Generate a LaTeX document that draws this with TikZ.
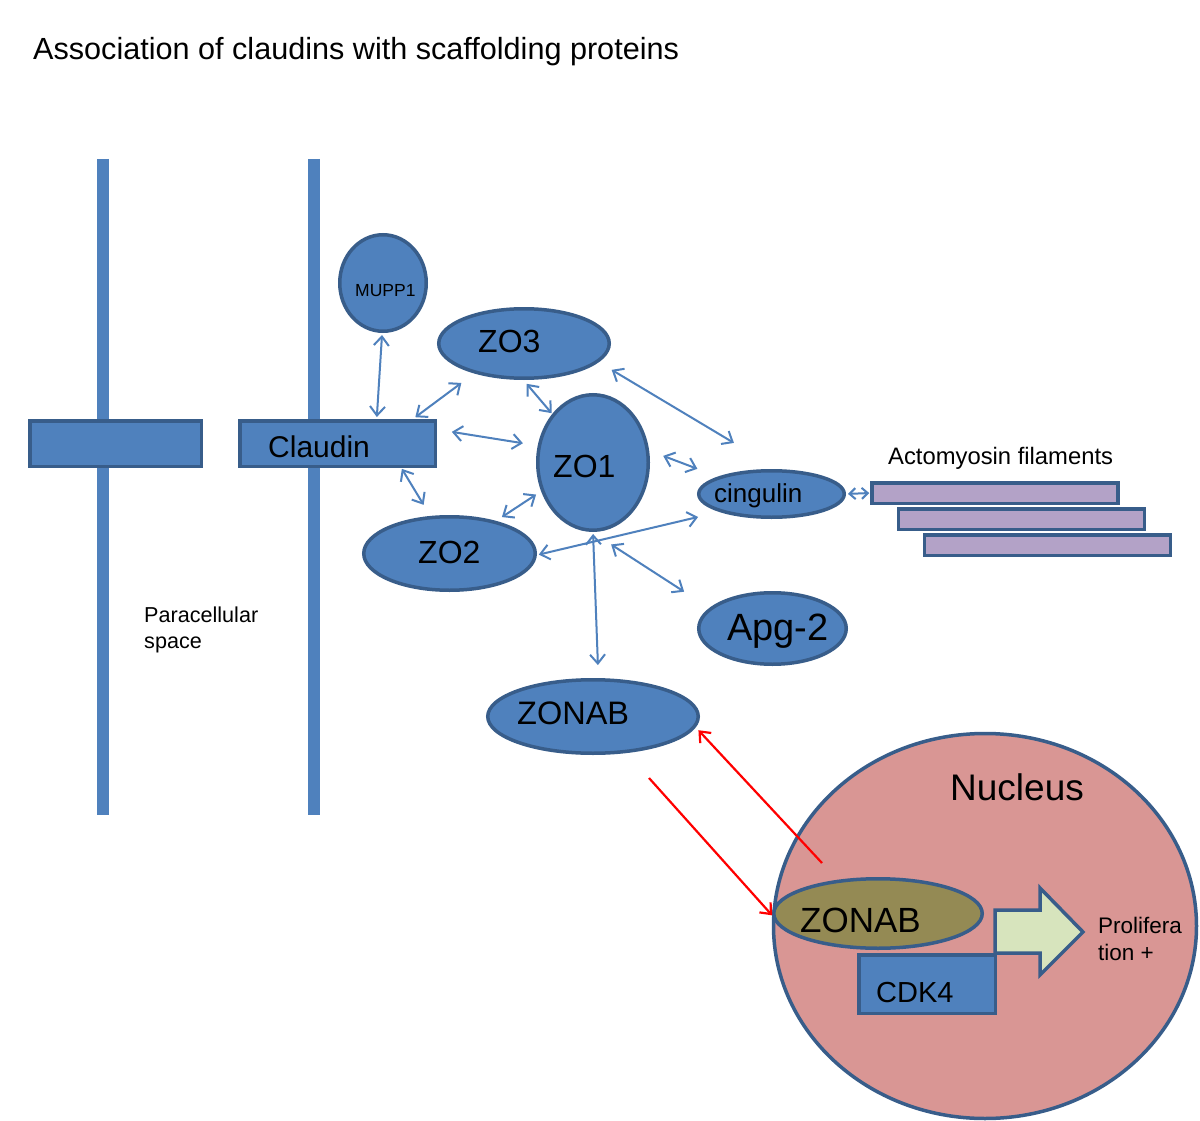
\documentclass[tikz,border=0pt]{standalone}
\usepackage{fontspec}
\setmainfont{Liberation Sans}
\usetikzlibrary{arrows.meta,shapes.geometric}
\definecolor{blfill}{HTML}{4F81BD}
\definecolor{bldraw}{HTML}{385D8A}
\definecolor{purp}{HTML}{B3A2C7}
\definecolor{nucfill}{HTML}{D99694}
\definecolor{olivez}{HTML}{948A54}
\definecolor{lgreen}{HTML}{D7E4BD}
\newcommand{\fs}[1]{\fontsize{#1}{#1}\selectfont}
\begin{document}
\begin{tikzpicture}[x=1pt,y=-1pt,
  prot/.style={ellipse, draw=bldraw, fill=blfill, line width=3.5pt, inner sep=0pt},
  boxx/.style={rectangle, draw=bldraw, fill=blfill, line width=3.5pt, inner sep=0pt},
  barr/.style={rectangle, draw=bldraw, fill=purp, line width=3.5pt, inner sep=0pt, minimum width=246pt, minimum height=20.5pt},
  lbl/.style={anchor=base west, inner sep=0pt, text=black},
  memb/.style={draw=blfill, line width=12pt},
  link/.style={draw=blfill, line width=2pt, arrows={Straight Barb[length=9pt,width=15pt]-Straight Barb[length=9pt,width=15pt]}},
  smalllink/.style={draw=blfill, line width=2pt, arrows={Straight Barb[length=6pt,width=11pt]-Straight Barb[length=6pt,width=11pt]}},
  redlink/.style={draw=red, line width=2.2pt, arrows={-Straight Barb[length=9pt,width=15pt]}}]
\useasboundingbox (0,0) rectangle (1200,1121);
\fill[white] (0,0) rectangle (1200,1121);

% membranes
\coordinate (m1t) at (103,159); \coordinate (m1b) at (103,815);
\coordinate (m2t) at (314,159); \coordinate (m2b) at (314,815);
\draw[memb] (m1t) -- (m1b);
\draw[memb] (m2t) -- (m2b);

% claudin boxes
\node[boxx, minimum width=171.5pt, minimum height=45.5pt] (lbox) at (115.5,443.5) {};
\node[boxx, minimum width=195.5pt, minimum height=45.5pt] (claudin) at (337.5,443.5) {};

% proteins
\node[prot, minimum width=86.5pt, minimum height=96.5pt] (mupp) at (383,283) {};
\node[prot, minimum width=170.5pt, minimum height=69.5pt] (zo3) at (524,343.5) {};
\node[prot, minimum width=110.5pt, minimum height=135.5pt] (zo1) at (593,462.5) {};
\node[prot, minimum width=171.5pt, minimum height=73.5pt] (zo2) at (449.5,553.5) {};
\node[prot, minimum width=145.5pt, minimum height=46.5pt] (cing) at (771.5,494) {};
\node[prot, minimum width=147.5pt, minimum height=71.5pt] (apg) at (772.5,628.5) {};
\node[prot, minimum width=210.5pt, minimum height=73.5pt] (zonab) at (593,716.5) {};

% actomyosin
\node[barr] (bar1) at (995,493) {};
\node[barr] (bar2) at (1021.5,519) {};
\node[barr] (bar3) at (1047.5,545) {};

% blue connectors
\draw[link, shorten <=2pt, shorten >=2pt] (mupp.269) -- (claudin.32);
\draw[link, shorten <=3pt, shorten >=16pt] (claudin.18) -- (zo3.211);
\draw[link, shorten <=5pt, shorten >=1pt] (zo3.269) -- (zo1.130);
\draw[link, shorten <=15pt, shorten >=15pt] (claudin.8) -- (zo1.163);
\draw[link, shorten <=15pt, shorten >=51pt] (zo3.346) -- (cing.76);
\draw[link, shorten <=1pt, shorten >=13pt] (claudin.339) -- (zo2.117);
\draw[link, shorten <=7pt, shorten >=6pt] (zo2.35) -- (zo1.209);
\draw[link, shorten <=15pt, shorten >=22pt] (zo1.12) -- (cing.162);
\draw[link, shorten <=2pt, shorten >=22pt] (zo2.359) -- (cing.199);
\draw[link, shorten <=2pt, shorten >=13pt] (zo1.south) -- (zonab.82);
\draw[link, shorten <=23pt, shorten >=30pt] (zo1.269) -- (apg.162);
\draw[smalllink, shorten <=2pt, shorten >=1pt] (cing.east) -- (bar1.west);

% nucleus
\node[ellipse, draw=bldraw, fill=nucfill, line width=3.5pt, inner sep=0pt, minimum width=423pt, minimum height=385pt] (nucleus) at (985,926) {};
\node[boxx, minimum width=136.5pt, minimum height=58.5pt] (cdk) at (927,984) {};
\draw[draw=bldraw, fill=lgreen, line width=3.5pt, line join=miter]
  (995,910) -- (1040,910) -- (1040,888) -- (1083,932) -- (1040,975) -- (1040,953) -- (995,953) -- cycle;
\node[ellipse, draw=bldraw, fill=olivez, line width=3.5pt, inner sep=0pt, minimum width=208.5pt, minimum height=69.5pt] (nzonab) at (878,913.5) {};

% red connectors
\coordinate (r1s) at (822,863);
\coordinate (r2s) at (649,778);
\draw[redlink, shorten >=4pt] (r1s) -- (zonab.354);
\draw[redlink] (r2s) -- (nzonab.181);

% labels
\node[lbl, font=\fs{30.6}] (title) at (33,60) {Association of claudins with scaffolding proteins};
\node[lbl, font=\fs{30}] (tclaudin) at (268,457) {Claudin};
\node[lbl, font=\fs{17.5}] (tmupp) at (355,296) {MUPP1};
\node[lbl, font=\fs{32}] (tzo3) at (478,352) {ZO3};
\node[lbl, font=\fs{32}] (tzo1) at (553,477) {ZO1};
\node[lbl, font=\fs{32}] (tzo2) at (418,563) {ZO2};
\node[lbl, font=\fs{26}] (tcing) at (714,502) {cingulin};
\node[lbl, font=\fs{38}] (tapg) at (727,640) {Apg-2};
\node[lbl, font=\fs{32.5}] (tzonab) at (517,724) {ZONAB};
\node[lbl, font=\fs{23.8}] (tacto) at (888,464) {Actomyosin filaments};
\node[lbl, font=\fs{21.6}] (tpara1) at (144,622) {Paracellular};
\node[lbl, font=\fs{21.6}] (tpara2) at (144,648) {space};
\node[lbl, font=\fs{37}] (tnuc) at (950,800) {Nucleus};
\node[lbl, font=\fs{35}] (tnzonab) at (800,932) {ZONAB};
\node[lbl, font=\fs{29}] (tcdk) at (876,1002) {CDK4};
\node[lbl, font=\fs{22.5}] (tprol1) at (1098,933) {Prolifera};
\node[lbl, font=\fs{22.5}] (tprol2) at (1098,960) {tion +};
\end{tikzpicture}
\end{document}
